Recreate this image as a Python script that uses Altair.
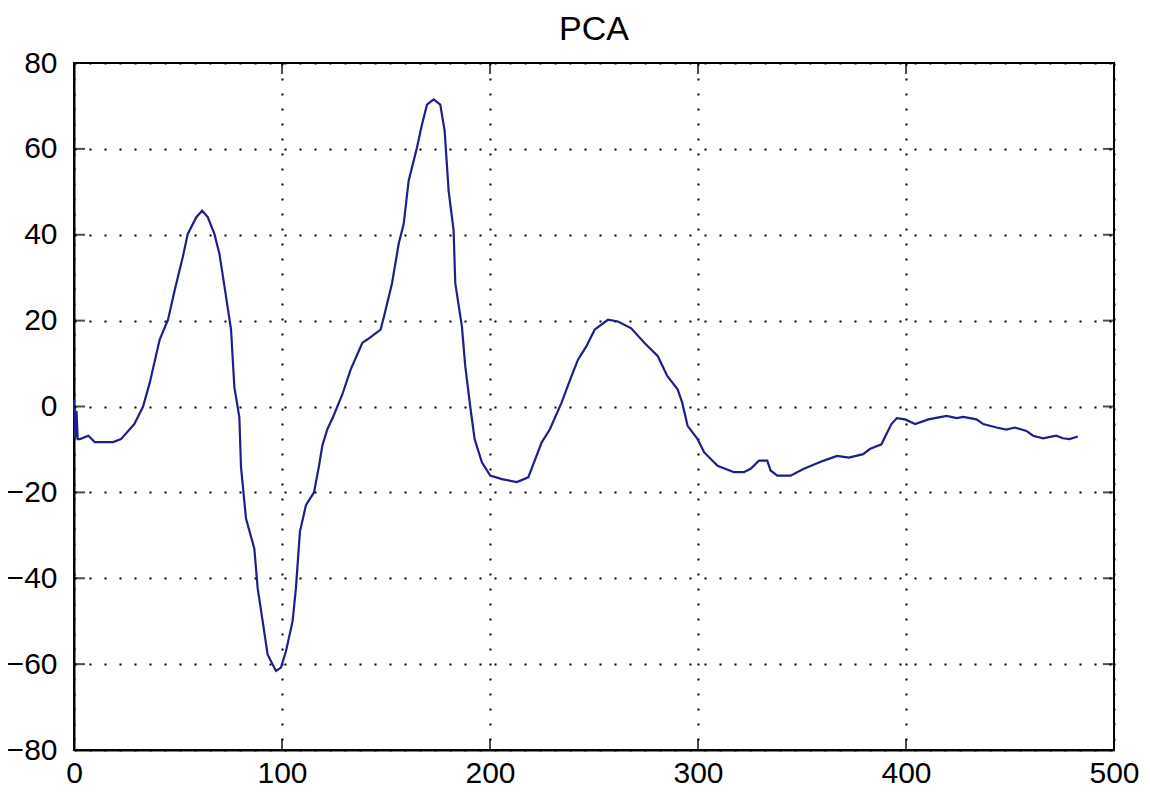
import altair as alt
import pandas as pd

# Data
xs = [0, 0.6, 1.2, 1.8, 2.9, 6.9, 10, 18.8, 22.6, 29, 33.2, 36.4, 41.2, 45.2, 48.4,
      52.3, 54.7, 58.8, 61.6, 64.3, 67.5, 69.9, 73.1, 75.5, 77.1, 79.5, 80.3, 82.7,
      86.7, 88.3, 90.7, 93.1, 97.1, 99.5, 101.9, 105.1, 106.7, 108.6, 111.5, 115.4,
      117.8, 119.4, 121.8, 124.5, 129, 133, 138.6, 141, 147.4, 149, 152.9, 156.1,
      158.5, 160.9, 164.9, 167.3, 169.7, 172.9, 176.1, 178.2, 180.1, 182.5, 183.3,
      186.5, 188.1, 190.5, 192.6, 196.1, 200.1, 205.7, 212.9, 218.4, 224.8, 228.8,
      234.4, 239.2, 242.3, 246.3, 250.3, 256.7, 261.5, 267.9, 274.3, 280.7, 285.2,
      290.2, 292.4, 295, 299.8, 303, 309.4, 317.3, 322.1, 325.3, 329.3, 333.3, 334.9,
      338.1, 344.5, 350.9, 360.5, 366.9, 372.5, 379.4, 382.6, 388.2, 390.6, 393,
      395.6, 399.6, 404.4, 410.8, 419.5, 424.3, 427.5, 433.9, 437.1, 443.5, 448.3,
      452.3, 457.9, 461.1, 465.9, 472.2, 475.4, 478.6, 482.6]
ys = [1.5, -7.5, -1.0, -7.6, -7.6, -6.8, -8.3, -8.3, -7.6, -4.1, 0.0, 5.5, 15.6, 20.2,
      27.1, 34.8, 40.2, 44.1, 45.6, 44.1, 40.2, 35.6, 25.6, 17.9, 4.5, -2.5, -14.2,
      -26.1, -33.1, -42.3, -50.0, -57.8, -61.6, -60.8, -57.0, -50.0, -42.3, -29.2,
      -23.0, -20.0, -13.8, -9.1, -5.3, -2.5, 2.8, 8.6, 14.8, 15.6, 17.9, 20.9, 28.7,
      37.9, 42.5, 52.6, 60.3, 65.7, 70.3, 71.5, 70.3, 64.2, 50.3, 41.0, 28.7, 18.6,
      9.4, 0.0, -7.6, -13.0, -16.1, -16.9, -17.6, -16.5, -8.4, -5.3, 0.9, 7.1, 10.9,
      14.0, 17.9, 20.2, 19.8, 18.2, 14.8, 11.7, 7.1, 4.0, 0.9, -4.5, -7.6, -10.7,
      -13.8, -15.3, -15.3, -14.5, -12.6, -12.6, -14.9, -16.1, -16.1, -14.5, -12.6,
      -11.5, -11.9, -11.1, -9.9, -8.8, -6.4, -4.1, -2.7, -3.0, -4.1, -3.0, -2.2,
      -2.7, -2.4, -3.0, -4.1, -4.9, -5.4, -4.9, -5.7, -6.8, -7.4, -6.8, -7.4, -7.6,
      -7.0]
x_ticks = [0, 100, 200, 300, 400, 500]
y_ticks = [-80, -60, -40, -20, 0, 20, 40, 60, 80]

W, H = 1040, 687
FONT = "Liberation Sans"

df = pd.DataFrame({"x": xs, "y": ys})
xt_df = pd.DataFrame({"x": x_ticks})
yt_df = pd.DataFrame({"y": y_ticks})

x_enc = alt.X("x:Q", scale=alt.Scale(domain=[0, 500], nice=False, zero=False),
              axis=alt.Axis(values=x_ticks, title=None, labelPadding=8))
y_enc = alt.Y("y:Q", scale=alt.Scale(domain=[-80, 80], nice=False, zero=False),
              axis=alt.Axis(values=y_ticks, title=None, labelPadding=17))

line = alt.Chart(df).mark_line(color="#1e1e8c", strokeWidth=2.2).encode(x=x_enc, y=y_enc)

tick_style = dict(color="black", thickness=2, size=11)
bottom_ticks = alt.Chart(xt_df).mark_tick(orient="vertical", yOffset=-5.5, **tick_style).encode(
    x=x_enc, y=alt.value(H))
top_ticks = alt.Chart(xt_df).mark_tick(orient="vertical", yOffset=5.5, **tick_style).encode(
    x=x_enc, y=alt.value(0))
left_ticks = alt.Chart(yt_df).mark_tick(orient="horizontal", xOffset=5.5, **tick_style).encode(
    y=y_enc, x=alt.value(0))
right_ticks = alt.Chart(yt_df).mark_tick(orient="horizontal", xOffset=-5.5, **tick_style).encode(
    y=y_enc, x=alt.value(W))

chart = alt.layer(line, bottom_ticks, top_ticks, left_ticks, right_ticks).properties(
    width=W, height=H,
    background="white",
    autosize=alt.AutoSizeParams(type="none"),
    padding={"left": 66, "top": 55, "right": 28, "bottom": 42},
    title=alt.Title("PCA", fontSize=34, font=FONT, fontWeight="normal", color="black",
                    offset=1, anchor="middle", frame="group"),
).configure_view(stroke="black", strokeWidth=2).configure_axis(
    domainColor="black", domainWidth=2, ticks=False,
    labelFont=FONT, labelFontSize=30, labelColor="black",
    labelFlush=False, labelOverlap=False,
    grid=True, gridColor="black", gridDash=[2, 13], gridWidth=2, gridOpacity=1,
)

chart.save("out.html", embed_options={"renderer": "svg", "actions": False})
